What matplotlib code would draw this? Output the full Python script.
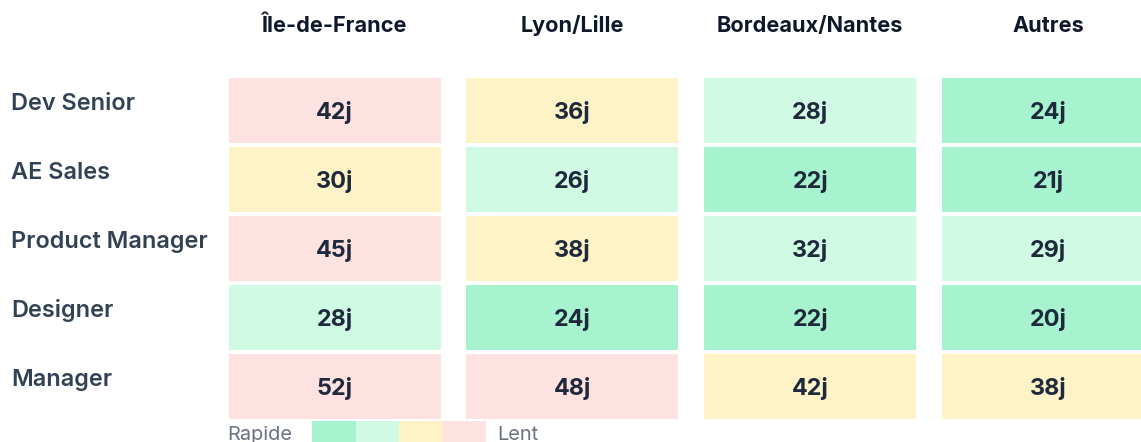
import matplotlib
matplotlib.use("Agg")
import matplotlib.pyplot as plt

regions = ["Île-de-France", "Lyon/Lille", "Bordeaux/Nantes", "Autres"]
roles = ["Dev Senior", "AE Sales", "Product Manager", "Designer", "Manager"]
days = [
    [42, 36, 28, 24],
    [30, 26, 22, 21],
    [45, 38, 32, 29],
    [28, 24, 22, 20],
    [52, 48, 42, 38],
]
# 0 = rapide (vert), 1 = vert clair, 2 = jaune, 3 = lent (rouge)
levels = [
    [3, 2, 1, 0],
    [2, 1, 0, 0],
    [3, 2, 1, 1],
    [1, 0, 0, 0],
    [3, 3, 2, 2],
]
level_colors = ["#a7f3d0", "#d1fae5", "#fef3c7", "#fee2e2"]
legend_left, legend_right = "Rapide", "Lent"

plt.rcParams["font.family"] = ["Inter", "DejaVu Sans"]

W, H, DPI = 1141, 442, 100
fig = plt.figure(figsize=(W / DPI, H / DPI), dpi=DPI)
ax = fig.add_axes([0, 0, 1, 1])
ax.set_axis_off()

# pixel geometry -> data units (1 unit = one column / one row pitch)
col_pitch, row_pitch = 237.8, 69.0
col0_px, row0_px = 334.5, 110.25
ax.set_xlim(-col0_px / col_pitch, (W - col0_px) / col_pitch)
ax.set_ylim((H - row0_px) / row_pitch, -row0_px / row_pitch)

cell_w = 212.0 / col_pitch
cell_h = 64.5 / row_pitch

for r, role in enumerate(roles):
    for c, reg in enumerate(regions):
        ax.bar(c, cell_h, bottom=r - cell_h / 2, width=cell_w,
               color=level_colors[levels[r][c]], linewidth=0)
        ax.text(c, r + 0.12, f"{days[r][c]}j", ha="center", va="baseline",
                fontsize=16.8, fontweight="bold", color="#1e293b")
    ax.text((11 - col0_px) / col_pitch, r + 0.0, role, ha="left", va="baseline",
            fontsize=16.9, fontweight="semibold", color="#334155")

for c, reg in enumerate(regions):
    ax.text(c, (32 - row0_px) / row_pitch, reg, ha="center", va="baseline",
            fontsize=15.6, fontweight="bold", color="#0f172a")

# legend
sw_w = 43.5 / col_pitch
sw_x0 = (312 - col0_px) / col_pitch
sw_top = (421.3 - row0_px) / row_pitch
sw_h = 30 / row_pitch
for i, col in enumerate(level_colors):
    ax.bar(sw_x0 + (i + 0.5) * sw_w, sw_h, bottom=sw_top, width=sw_w,
           color=col, linewidth=0)
ax.text((227 - col0_px) / col_pitch, (440 - row0_px) / row_pitch, legend_left,
        ha="left", va="baseline", fontsize=14.4, color="#6b7280")
ax.text((497 - col0_px) / col_pitch, (440 - row0_px) / row_pitch, legend_right,
        ha="left", va="baseline", fontsize=14.4, color="#6b7280")

fig.savefig("out.png", dpi=DPI, facecolor="white")
